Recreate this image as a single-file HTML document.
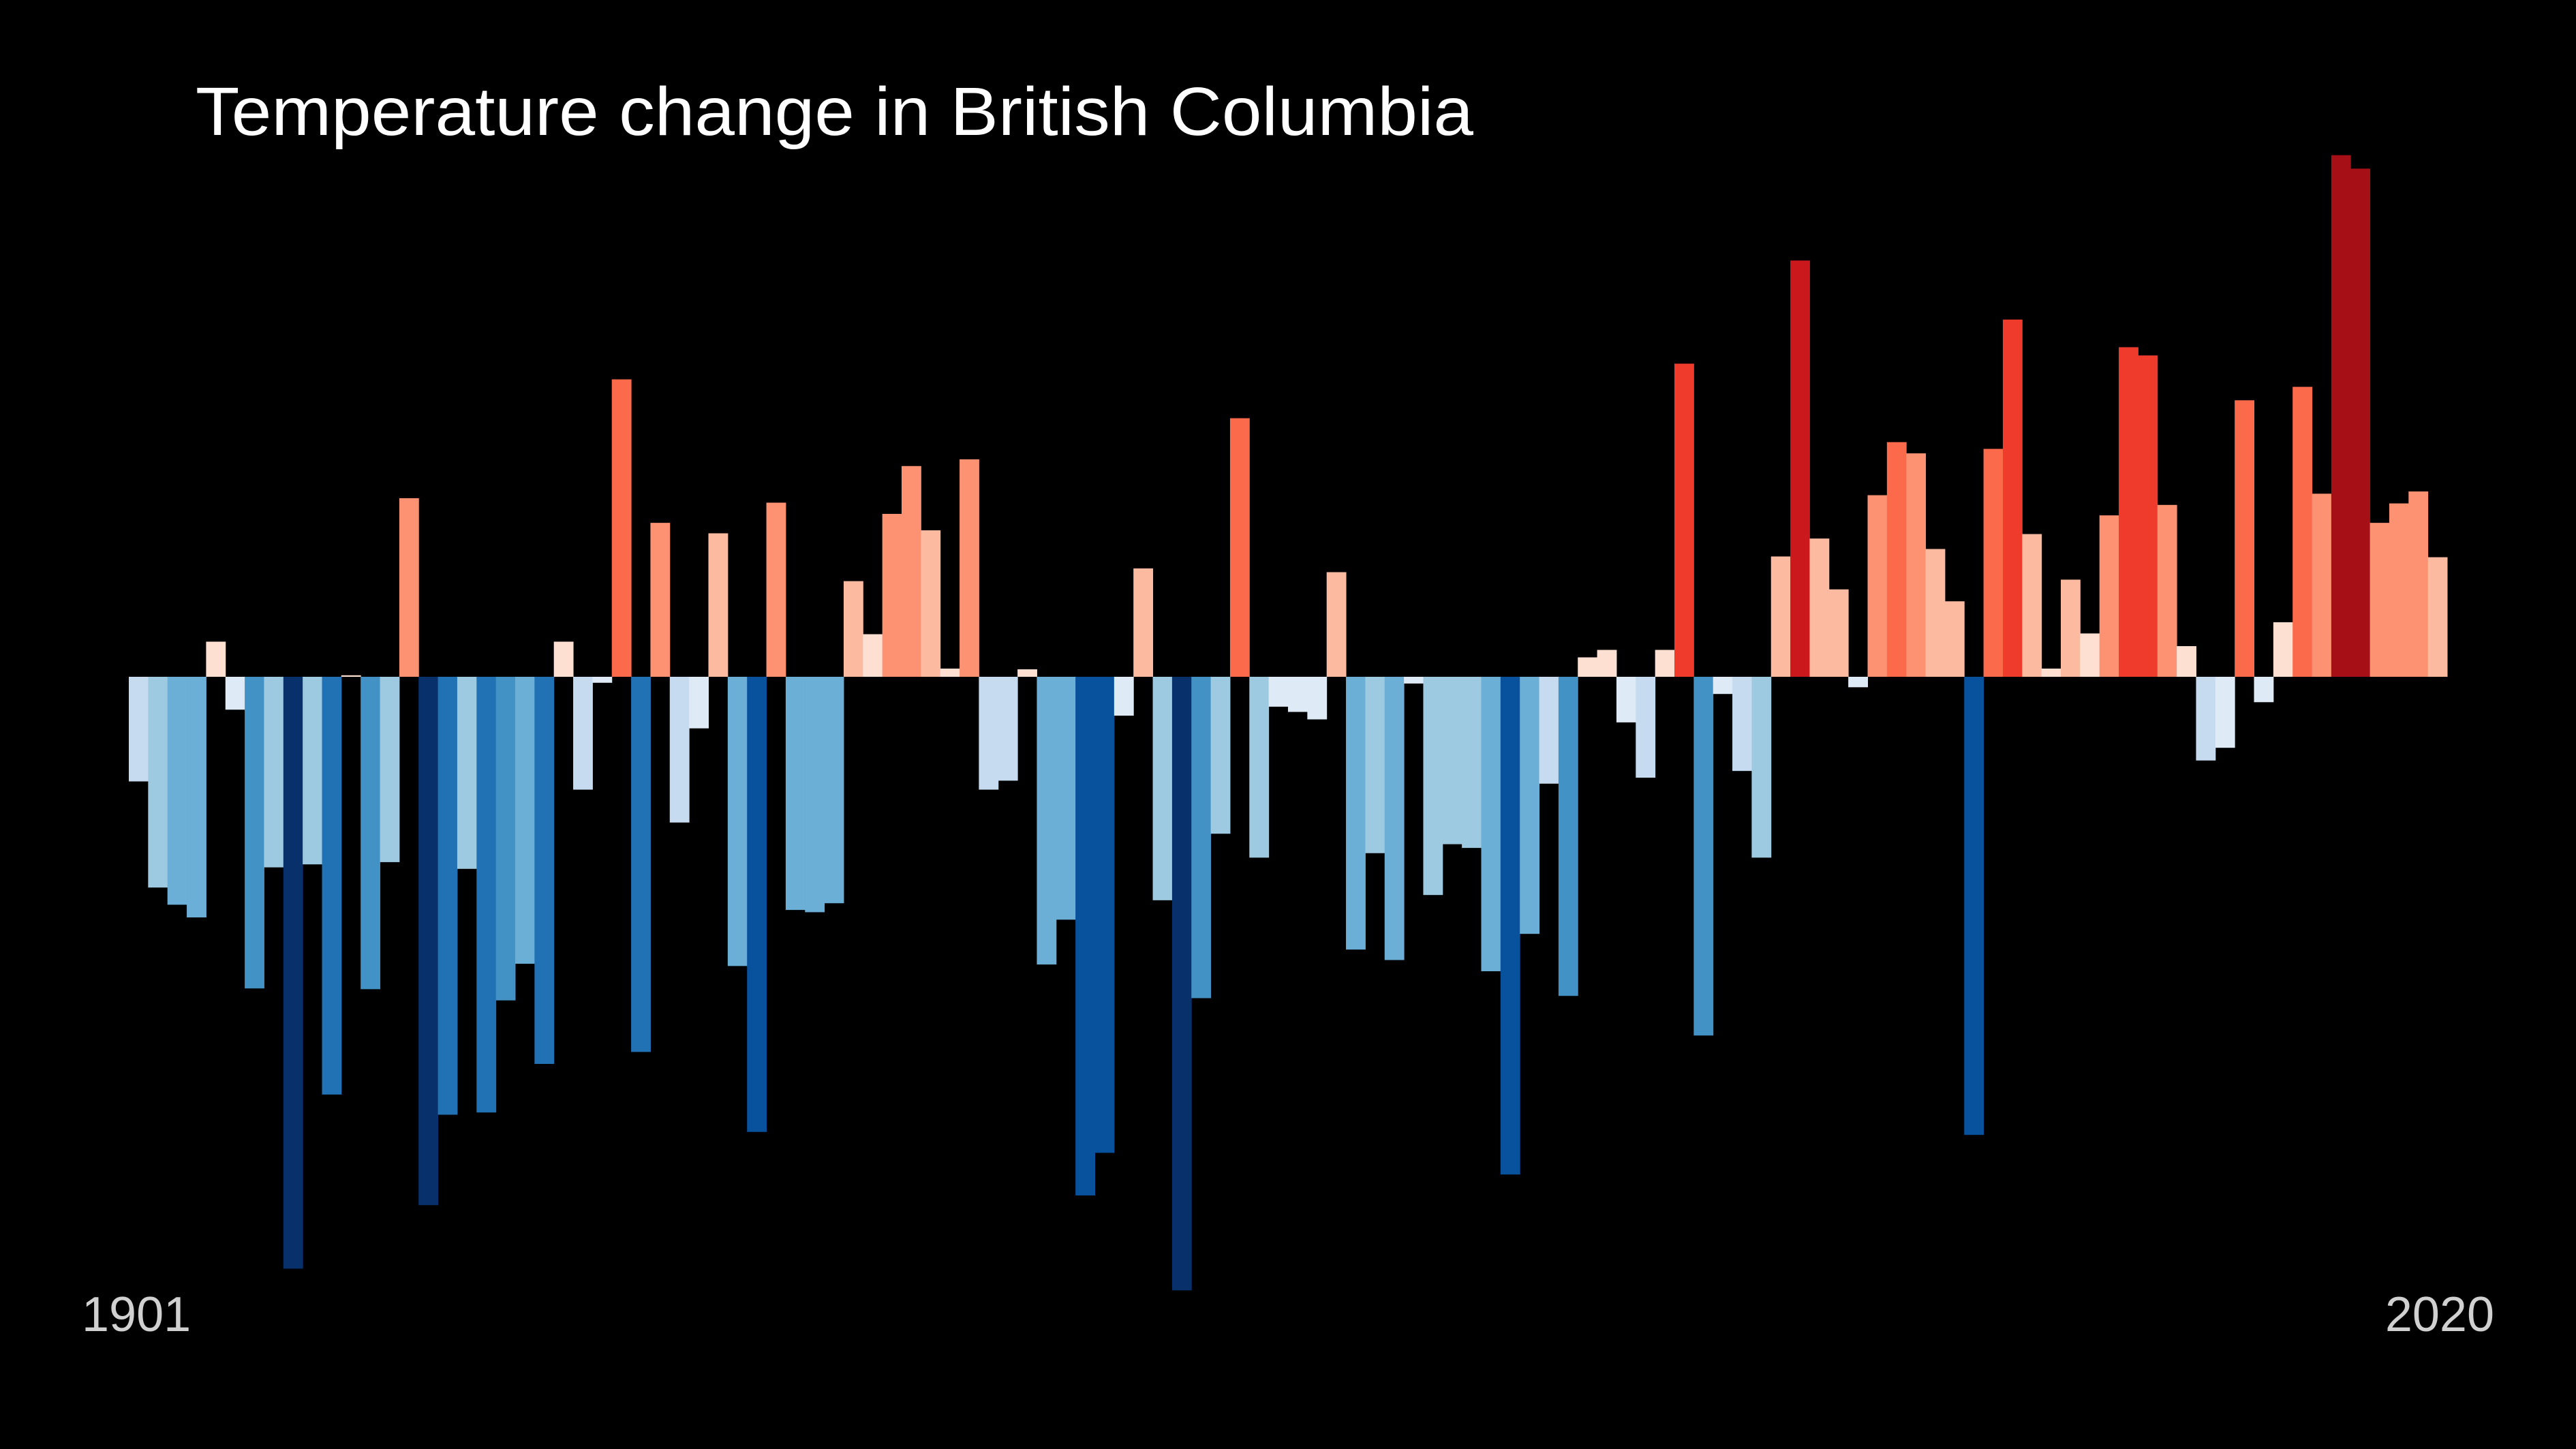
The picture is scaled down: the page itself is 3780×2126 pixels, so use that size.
<!DOCTYPE html>
<html><head><meta charset="utf-8"><style>
html,body{margin:0;padding:0;background:#000;}
svg{display:block;}
</style></head><body>
<svg id="chart" xmlns="http://www.w3.org/2000/svg" width="3780" height="2126" viewBox="0 0 3780 2126">
<rect x="0" y="0" width="3780" height="2126" fill="#000"/>
<text x="287" y="198" fill="#fff" font-family="Liberation Sans, sans-serif" font-size="100" textLength="1875" lengthAdjust="spacingAndGlyphs">Temperature change in British Columbia</text>
<g id="bars"></g>
<text id="startLabel" x="120" y="1953" fill="#d0d0d0" font-family="Liberation Sans, sans-serif" font-size="72"></text>
<text id="endLabel" x="3660" y="1953" text-anchor="end" fill="#d0d0d0" font-family="Liberation Sans, sans-serif" font-size="72"></text>
</svg>
<script>
const firstYear = 1901;
const lastYear = 2020;
const tickLabels = ["1901", "2020"];
const anomalies = [
-1.40,-2.82,-3.05,-3.22,0.47,-0.44,-4.17,-2.55,-7.92,-2.51,
-5.59,0.02,-4.18,-2.48,2.39,-7.07,-5.86,-2.57,-5.83,-4.33,
-3.84,-5.18,0.47,-1.51,-0.08,3.98,-5.02,2.06,-1.95,-0.69,
1.92,-3.87,-6.09,2.33,-3.12,-3.15,-3.03,1.28,0.57,2.18,
2.82,1.96,0.11,2.91,-1.51,-1.39,0.10,-3.85,-3.25,-6.94,
-6.37,-0.52,1.45,-2.99,-8.21,-4.30,-2.10,3.46,-2.42,-0.40,
-0.47,-0.57,1.40,-3.65,-2.36,-3.79,-0.09,-2.92,-2.24,-2.29,
-3.94,-6.66,-3.44,-1.43,-4.27,0.26,0.36,-0.61,-1.35,0.36,
4.19,-4.80,-0.23,-1.26,-2.42,1.61,5.57,1.85,1.17,-0.14,
2.43,3.14,2.99,1.71,1.01,-6.13,3.05,4.78,1.91,0.11,
1.30,0.58,2.16,4.41,4.30,2.30,0.41,-1.12,-0.95,3.70,
-0.34,0.73,3.88,2.45,6.98,6.80,2.06,2.32,2.48,1.60
];
const posColors = ["#fee0d2","#fcbba1","#fc9272","#fb6a4a","#ef3b2c","#cb181d","#a50f15"];
const negColors = ["#deebf7","#c6dbef","#9ecae1","#6baed6","#4292c6","#2171b5","#08519c","#08306b"];

const plotLeft = 189, plotRight = 3591, zeroY = 993, pxPerUnit = 109.65;
const n = anomalies.length;
const bw = (plotRight - plotLeft) / n;
function xScale(i){ return plotLeft + i * bw; }
function yScale(v){ return zeroY - v * pxPerUnit; }
function colorFor(v){
  if (v >= 0) return posColors[Math.min(posColors.length-1, Math.floor(v))];
  return negColors[Math.min(negColors.length-1, Math.floor(-v))];
}
const g = document.getElementById('bars');
const NS = "http://www.w3.org/2000/svg";
anomalies.forEach(function(v, i){
  const r = document.createElementNS(NS, 'rect');
  const y0 = yScale(Math.max(v, 0)), y1 = yScale(Math.min(v, 0));
  r.setAttribute('x', xScale(i).toFixed(2));
  r.setAttribute('y', y0.toFixed(2));
  r.setAttribute('width', (bw + 0.5).toFixed(2));
  r.setAttribute('height', Math.max(0.5, y1 - y0).toFixed(2));
  r.setAttribute('fill', colorFor(v));
  
  
  g.appendChild(r);
});
document.getElementById('startLabel').textContent = tickLabels[0];
document.getElementById('endLabel').textContent = tickLabels[1];
</script>
</body></html>
